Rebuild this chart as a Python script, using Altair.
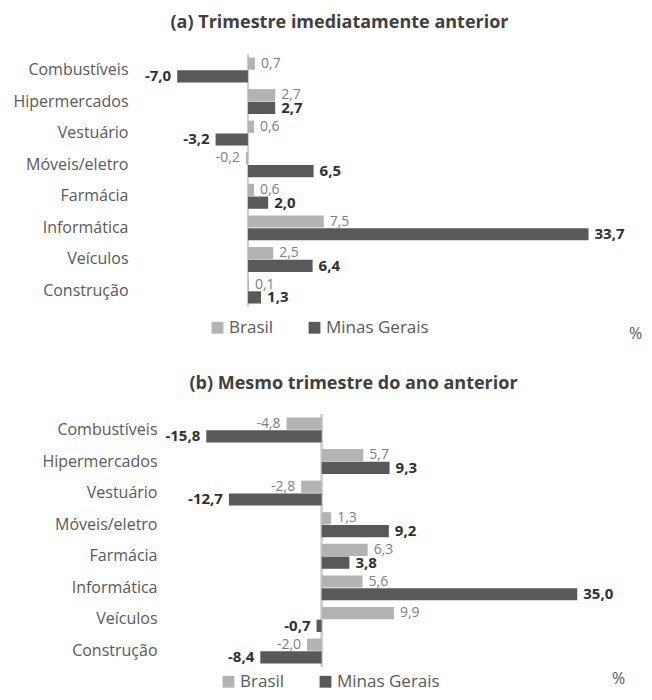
import altair as alt
import pandas as pd

categories = ["Combustíveis", "Hipermercados", "Vestuário", "Móveis/eletro",
              "Farmácia", "Informática", "Veículos", "Construção"]
series = ["Brasil", "Minas Gerais"]

a_brasil = [0.7, 2.7, 0.6, -0.2, 0.6, 7.5, 2.5, 0.1]
a_minas = [-7.0, 2.7, -3.2, 6.5, 2.0, 33.7, 6.4, 1.3]
b_brasil = [-4.8, 5.7, -2.8, 1.3, 6.3, 5.6, 9.9, -2.0]
b_minas = [-15.8, 9.3, -12.7, 9.2, 3.8, 35.0, -0.7, -8.4]

title_a = "(a) Trimestre imediatamente anterior"
title_b = "(b) Mesmo trimestre do ano anterior"

FONT = "Open Sans"
BAR_COLORS = ["#b3b3b3", "#595959"]


def make_df(br, mg):
    rows = []
    for i, c in enumerate(categories):
        for s, v in ((series[0], br[i]), (series[1], mg[i])):
            rows.append({"cat": c, "serie": s, "valor": v,
                         "rotulo": f"{v:.1f}".replace(".", ",")})
    return pd.DataFrame(rows)


def panel(df, title, dom, label_pad, legend_x, legend_y, pct_x, pct_y, title_dx, title_offset):
    y_enc = alt.Y("cat:N", sort=categories, title=None,
                  scale=alt.Scale(paddingInner=0.21, paddingOuter=0.11),
                  axis=alt.Axis(labelPadding=label_pad, ticks=False, domain=False,
                                labelFont=FONT, labelFontSize=16, labelColor="#595959",
                                minExtent=153, maxExtent=153, labelLimit=200))
    yoff = alt.YOffset("serie:N", sort=series, scale=alt.Scale(paddingInner=0.04))
    x_enc = alt.X("valor:Q", scale=alt.Scale(domain=dom, nice=False, zero=False),
                  axis=alt.Axis(title="%", labels=False, ticks=False, domain=False, grid=False,
                                titleFont=FONT, titleFontSize=16, titleFontWeight="normal",
                                titleColor="#595959", titleX=pct_x, titleY=pct_y,
                                titleAlign="center", titleBaseline="middle", titleAngle=0))

    zero = alt.Chart(df).mark_rule(color="#d0d0d0", strokeWidth=1.5).encode(x=alt.datum(0))

    bars = alt.Chart(df).mark_bar().encode(
        y=y_enc, yOffset=yoff, x=x_enc,
        color=alt.Color("serie:N", sort=series,
                        scale=alt.Scale(domain=series, range=BAR_COLORS),
                        legend=alt.Legend(orient="none", legendX=legend_x, legendY=legend_y,
                                          direction="horizontal", title=None,
                                          symbolType="square", symbolSize=140,
                                          symbolStrokeWidth=0, labelFont=FONT,
                                          labelFontSize=17, labelColor="#595959",
                                          labelOffset=3, columnPadding=32, padding=0)),
    )

    def labels(serie, positive, color, weight, size):
        cond = f"datum.serie == '{serie}' && datum.valor {'>=' if positive else '<'} 0"
        return alt.Chart(df).transform_filter(cond).mark_text(
            align="left" if positive else "right", dx=6 if positive else -6,
            baseline="middle", font=FONT, fontSize=size, fontWeight=weight, color=color,
        ).encode(y=y_enc, yOffset=yoff, x=alt.X("valor:Q"), text="rotulo:N")

    layers = [zero, bars,
              labels(series[0], True, "#808080", "normal", 14),
              labels(series[0], False, "#808080", "normal", 14),
              labels(series[1], True, "#303030", "bold", 15),
              labels(series[1], False, "#303030", "bold", 15)]

    return alt.layer(*layers).properties(
        width=471, height=253,
        title=alt.TitleParams(title, font=FONT, fontSize=18, fontWeight="bold",
                              color="#404040", anchor="middle", frame="group",
                              dx=title_dx, offset=title_offset),
    )


pa = panel(make_df(a_brasil, a_minas), title_a, [-8.6, 38.0], 33, 48, 265, 474, 26, -57, 21)
pb = panel(make_df(b_brasil, b_minas), title_b, [-22.0, 42.5], 4, 59, 259, 457, 11, -43, 20)

chart = (alt.vconcat(pa, pb, spacing=34)
         .resolve_scale(color="independent")
         .resolve_legend(color="independent")
         .properties(padding={"top": 6, "left": 0, "right": 0, "bottom": 2})
         .configure_view(stroke=None))

chart.save("out.html", embed_options={"renderer": "svg", "actions": False})
